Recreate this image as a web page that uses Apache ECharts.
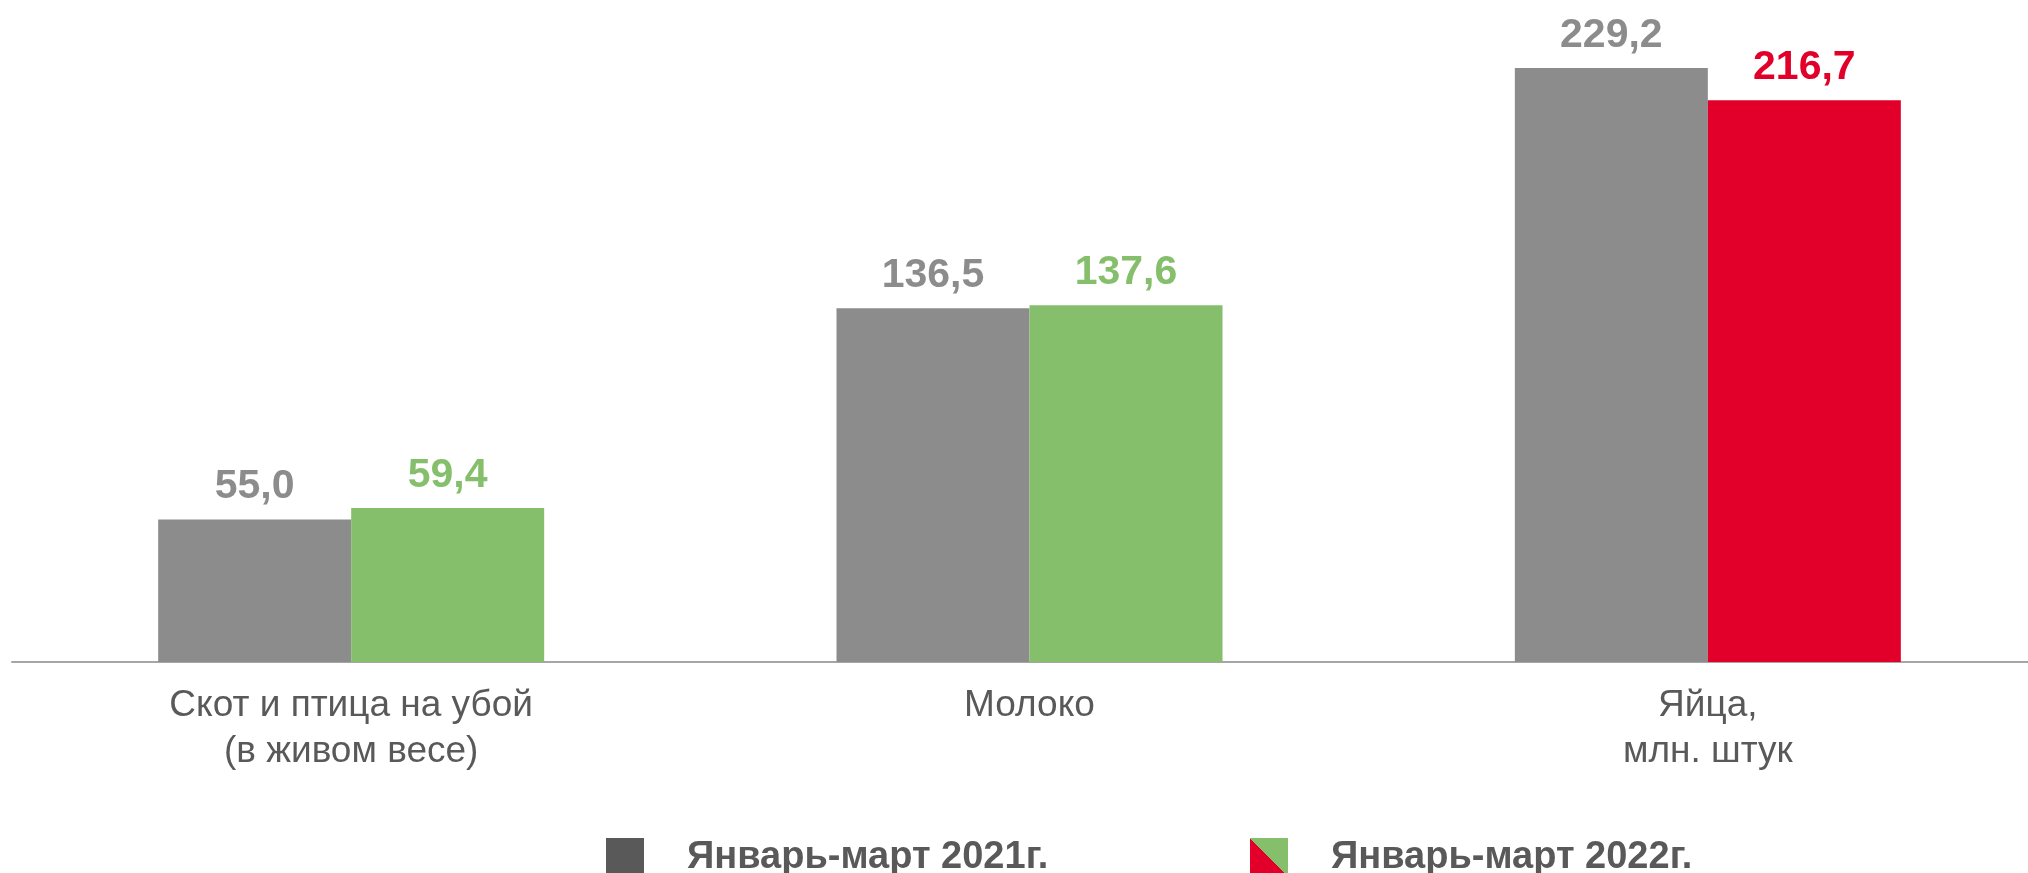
<!DOCTYPE html>
<html>
<head>
<meta charset="utf-8">
<script src="https://cdn.jsdelivr.net/npm/echarts@6/dist/echarts.min.js"></script>
<style>
  html, body { margin: 0; padding: 0; background: #fff; }
  #chart { width: 2028px; height: 873px; }
</style>
</head>
<body>
<div id="chart"></div>
<script>
// categories and values
const categories = ["Скот и птица на убой\n(в живом весе)", "Молоко", "Яйца,\nмлн. штук"];
const values2021 = [55.0, 136.5, 229.2];
const values2022 = [59.4, 137.6, 216.7];
const seriesNames = ["Январь-март 2021г.", "Январь-март 2022г."];

const FONT = "'Liberation Sans', Arial, sans-serif";
const GRAY = "#8c8c8c";
const GREEN = "#86bf6b";
const RED = "#e2002b";
const TEXT = "#595959";

const fmt = (p) => p.value.toFixed(1).replace(".", ",");

const chart = echarts.init(document.getElementById("chart"));

// рост — зелёный, снижение — красный
const data2022 = values2022.map((v, i) => {
  const c = v >= values2021[i] ? GREEN : RED;
  return { value: v, itemStyle: { color: c }, label: { color: c } };
});

const splitIcon = {
  type: "linear", x: 0, y: 1, x2: 1, y2: 0,
  colorStops: [
    { offset: 0, color: RED }, { offset: 0.5, color: RED },
    { offset: 0.5, color: GREEN }, { offset: 1, color: GREEN },
  ],
};

const legendBase = {
  top: 833,
  itemWidth: 38,
  itemHeight: 39,
  icon: "rect",
  selectedMode: false,
  textStyle: {
    fontFamily: FONT, fontSize: 38, fontWeight: "bold", color: TEXT,
    padding: [0, 0, 0, 38],
  },
};

chart.setOption({
  animation: false,
  backgroundColor: "#fff",
  grid: { left: 12, right: -19, top: 14, bottom: 211, containLabel: false, outerBoundsMode: "none" },
  legend: [
    { ...legendBase, left: 601, data: [{ name: seriesNames[0], itemStyle: { color: "#595959" } }] },
    { ...legendBase, left: 1245, data: [{ name: seriesNames[1], itemStyle: { color: splitIcon } }] },
  ],
  xAxis: {
    type: "category",
    data: categories,
    axisLine: { lineStyle: { color: "#a6a6a6", width: 2 } },
    axisTick: { show: false },
    axisLabel: {
      interval: 0,
      margin: 21,
      fontFamily: FONT,
      fontSize: 37,
      lineHeight: 46,
      color: TEXT,
    },
  },
  yAxis: { type: "value", min: 0, max: 250, show: false, splitLine: { show: false } },
  series: [
    {
      name: seriesNames[0],
      type: "bar",
      barWidth: 193,
      barGap: "0%",
      data: values2021,
      itemStyle: { color: GRAY },
      label: {
        show: true, position: "top", distance: 12, formatter: fmt,
        fontFamily: FONT, fontSize: 41, fontWeight: "bold", color: GRAY,
      },
    },
    {
      name: seriesNames[1],
      type: "bar",
      barWidth: 193,
      barGap: "0%",
      data: data2022,
      itemStyle: { color: GREEN },
      label: {
        show: true, position: "top", distance: 12, formatter: fmt,
        fontFamily: FONT, fontSize: 41, fontWeight: "bold",
      },
    },
  ],
});
</script>
</body>
</html>
